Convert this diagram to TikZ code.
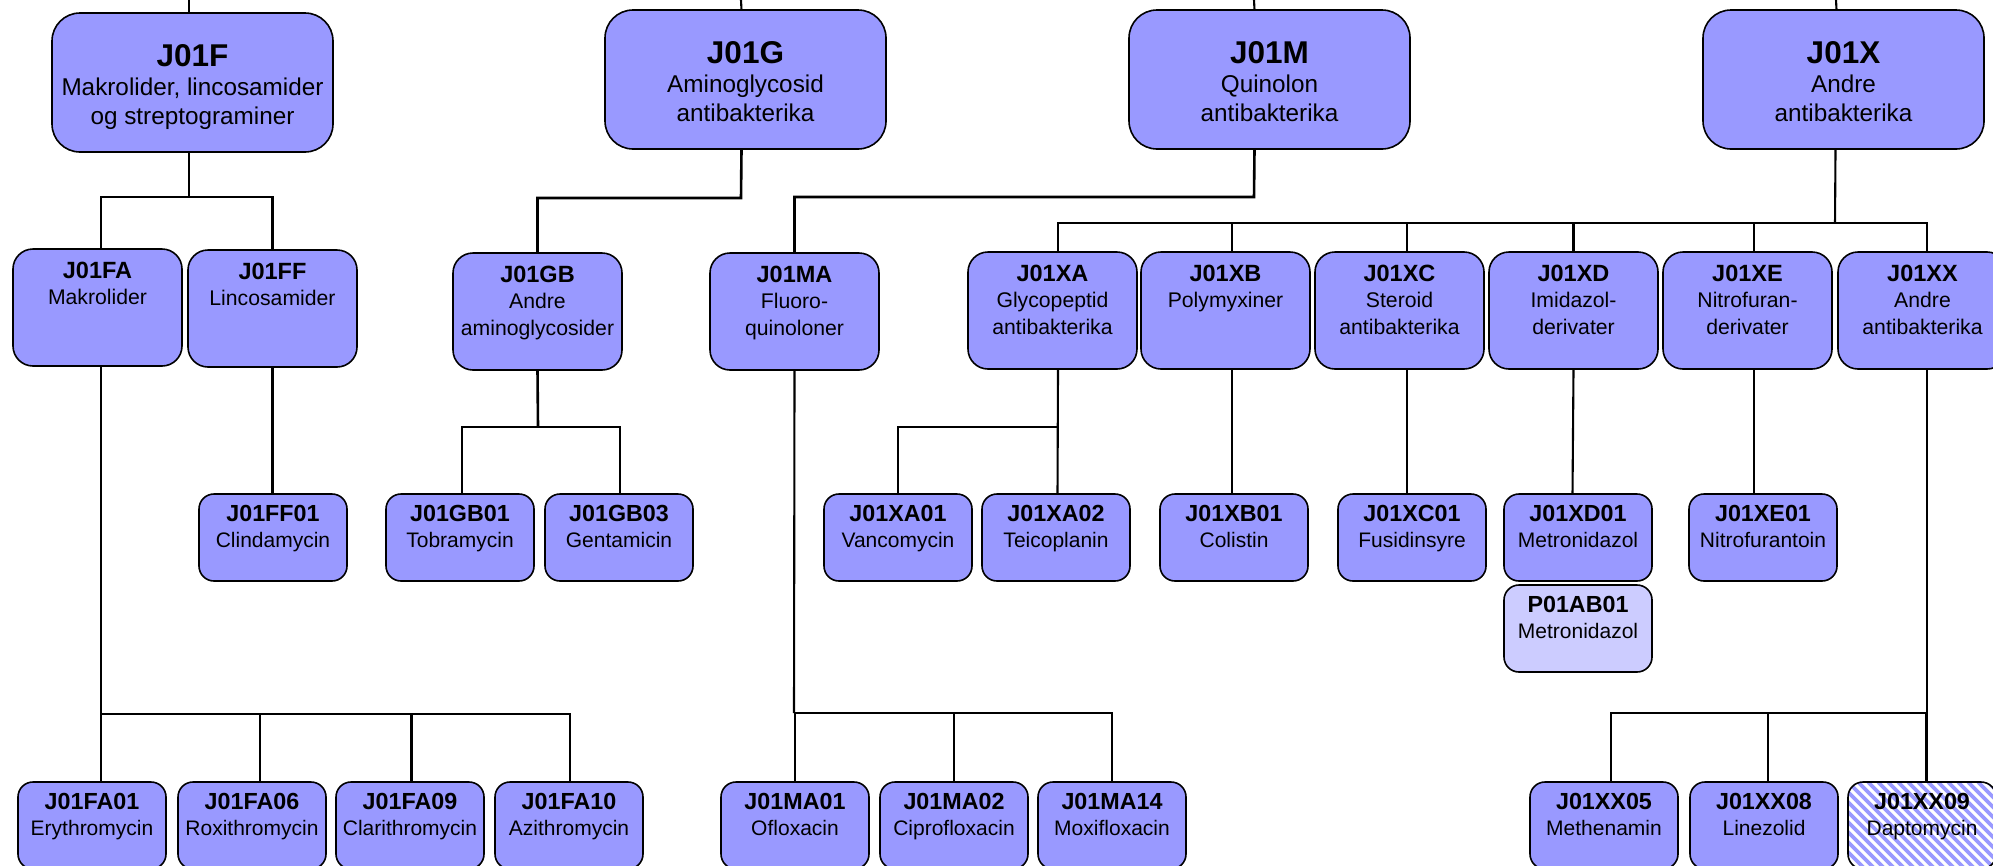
\documentclass[tikz,border=0pt]{standalone}
\usepackage{fontspec}
\setmainfont{Liberation Sans}
\usetikzlibrary{backgrounds}
\definecolor{boxblue}{HTML}{9999FF}
\definecolor{boxlight}{HTML}{CCCCFF}
\newcommand{\topbox}[2]{\parbox[t][139pt][t]{281pt}{\centering\fontsize{24.3}{29}\selectfont\rule{0pt}{53pt}{\fontsize{31.5}{30}\selectfont\bfseries #1}\\#2}}
\newcommand{\midbox}[2]{\parbox[t][117pt][t]{169pt}{\centering\fontsize{21.2}{26.5}\selectfont\rule{0pt}{29pt}{\fontsize{23.5}{27}\selectfont\bfseries #1}\\#2}}
\newcommand{\leafbox}[2]{\parbox[t][87pt][t]{148pt}{\centering\fontsize{21}{26}\selectfont\rule{0pt}{27pt}{\fontsize{23.3}{26}\selectfont\bfseries #1}\\#2}}
\begin{document}
\begin{tikzpicture}[x=1pt,y=-1pt,
  basebox/.style={draw=black, line width=1.6pt, fill=boxblue, inner sep=0pt, outer sep=0pt, anchor=north west},
  topnode/.style={basebox, rounded corners=28pt},
  midnode/.style={basebox, rounded corners=20pt},
  leafnode/.style={basebox, rounded corners=15pt},
  thickln/.style={draw=black, line width=2.6pt},
  thinln/.style={draw=black, line width=2.1pt}]
\useasboundingbox (0,0) rectangle (1993,865);

% top level
\node[topnode] (J01F) at (52,13) {\topbox{J01F}{Makrolider, lincosamider\\og streptograminer}};
\node[topnode] (J01G) at (605,10) {\topbox{J01G}{Aminoglycosid\\antibakterika}};
\node[topnode] (J01M) at (1129,10) {\topbox{J01M}{Quinolon\\antibakterika}};
\node[topnode] (J01X) at (1703,10) {\topbox{J01X}{Andre\\antibakterika}};

% second level
\node[midnode] (J01FA) at (13,249) {\midbox{J01FA}{Makrolider}};
\node[midnode] (J01FF) at (188,250) {\midbox{J01FF}{Lincosamider}};
\node[midnode] (J01GB) at (453,253) {\midbox{J01GB}{Andre\\aminoglycosider}};
\node[midnode] (J01MA) at (710,253) {\midbox{J01MA}{Fluoro-\\quinoloner}};
\node[midnode] (J01XA) at (968,252) {\midbox{J01XA}{Glycopeptid\\antibakterika}};
\node[midnode] (J01XB) at (1141,252) {\midbox{J01XB}{Polymyxiner}};
\node[midnode] (J01XC) at (1315,252) {\midbox{J01XC}{Steroid\\antibakterika}};
\node[midnode] (J01XD) at (1489,252) {\midbox{J01XD}{Imidazol-\\derivater}};
\node[midnode] (J01XE) at (1663,252) {\midbox{J01XE}{Nitrofuran-\\derivater}};
\node[midnode] (J01XX) at (1838,252) {\midbox{J01XX}{Andre\\antibakterika}};

% third level
\node[leafnode] (J01FF01) at (199,494) {\leafbox{J01FF01}{Clindamycin}};
\node[leafnode] (J01GB01) at (386,494) {\leafbox{J01GB01}{Tobramycin}};
\node[leafnode] (J01GB03) at (545,494) {\leafbox{J01GB03}{Gentamicin}};
\node[leafnode] (J01XA01) at (824,494) {\leafbox{J01XA01}{Vancomycin}};
\node[leafnode] (J01XA02) at (982,494) {\leafbox{J01XA02}{Teicoplanin}};
\node[leafnode] (J01XB01) at (1160,494) {\leafbox{J01XB01}{Colistin}};
\node[leafnode] (J01XC01) at (1338,494) {\leafbox{J01XC01}{Fusidinsyre}};
\node[leafnode] (J01XD01) at (1504,494) {\leafbox{J01XD01}{Metronidazol}};
\node[leafnode] (J01XE01) at (1689,494) {\leafbox{J01XE01}{Nitrofurantoin}};
\node[leafnode, fill=boxlight] (P01AB01) at (1504,585) {\leafbox{P01AB01}{Metronidazol}};

% bottom level
\node[leafnode] (J01FA01) at (18,782) {\leafbox{J01FA01}{Erythromycin}};
\node[leafnode] (J01FA06) at (178,782) {\leafbox{J01FA06}{Roxithromycin}};
\node[leafnode] (J01FA09) at (336,782) {\leafbox{J01FA09}{Clarithromycin}};
\node[leafnode] (J01FA10) at (495,782) {\leafbox{J01FA10}{Azithromycin}};
\node[leafnode] (J01MA01) at (721,782) {\leafbox{J01MA01}{Ofloxacin}};
\node[leafnode] (J01MA02) at (880,782) {\leafbox{J01MA02}{Ciprofloxacin}};
\node[leafnode] (J01MA14) at (1038,782) {\leafbox{J01MA14}{Moxifloxacin}};
\node[leafnode] (J01XX05) at (1530,782) {\leafbox{J01XX05}{Methenamin}};
\node[leafnode] (J01XX08) at (1690,782) {\leafbox{J01XX08}{Linezolid}};
\node[leafnode, fill=none] (J01XX09) at (1848,782) {\leafbox{J01XX09}{Daptomycin}};
\begin{scope}[on background layer]
  \clip[rounded corners=15pt] (J01XX09.north west) rectangle (J01XX09.south east);
  \foreach \k in {-12,...,16}
    \draw[boxblue, line width=3.6pt] ([xshift=\k*10pt]J01XX09.north west) -- ++(110,110);
\end{scope}

% lines to the top edge
\coordinate (tF) at (189,0);
\coordinate (tG) at (741,0);
\coordinate (tM) at (1254,0);
\coordinate (tX) at (1836,0);
\draw[thinln] ([xshift=-3.5pt]J01F.north) -- (tF);
\draw[thinln] ([xshift=-4pt]J01G.north) -- (tG);
\draw[thinln] ([xshift=-15pt]J01M.north) -- (tM);
\draw[thinln] ([xshift=-7pt]J01X.north) -- (tX);

% J01F group
\coordinate (cF) at (189,197);
\draw[thickln] ([xshift=-3.5pt]J01F.south) -- (cF);
\draw[thickln] ([xshift=3.5pt]J01FA.north) |- (cF) -| (J01FF.north);
% J01G group
\coordinate (cG) at (741,198);
\draw[thickln] ([xshift=-4pt]J01G.south) -- (cG) -| (J01GB.north);
% J01M group
\coordinate (cM) at (1254,197);
\draw[thickln] ([xshift=-15pt]J01M.south) -- (cM) -| (J01MA.north);
% J01X group
\coordinate (cX) at (1835,223);
\draw[thinln] ([xshift=-8pt]J01X.south) -- (cX);
\draw[thinln] ([xshift=5.5pt]J01XA.north) |- (cX) -| ([xshift=4.5pt]J01XX.north);
\draw[thinln] ([xshift=6.5pt]J01XB.north) |- (cX);
\draw[thinln] ([xshift=7.5pt]J01XC.north) |- (cX);
\draw[thinln] (J01XD.north) |- (cX);
\draw[thinln] ([xshift=6.5pt]J01XE.north) |- (cX);

% third level connectors
\draw[thinln] (J01FF.south) -- (J01FF.south |- J01FF01.north);
\coordinate (cGB) at (538,427);
\draw[thickln] (J01GB.south) -- (cGB);
\draw[thickln] ([xshift=2pt]J01GB01.north) |- (cGB) -| ([xshift=1pt]J01GB03.north);
\coordinate (cXA) at (1058,427);
\draw[thinln] ([xshift=5.5pt]J01XA.south) -- ([xshift=1.5pt]J01XA02.north);
\draw[thickln] (J01XA01.north) |- (cXA);
\draw[thinln] ([xshift=6.5pt]J01XB.south) -- ([xshift=-2pt]J01XB01.north);
\draw[thinln] ([xshift=7.5pt]J01XC.south) -- ([xshift=-5pt]J01XC01.north);
\draw[thinln] (J01XD.south) -- ([xshift=-5.5pt]J01XD01.north);
\draw[thinln] ([xshift=6.5pt]J01XE.south) -- ([xshift=-9pt]J01XE01.north);

% bottom connectors
\coordinate (cFA) at (101,714);
\coordinate (eFA) at (570,714);
\draw[thinln] ([xshift=3.5pt]J01FA.south) -- (cFA);
\draw[thickln] (cFA) -- (eFA);
\draw[thinln] ([xshift=9pt]J01FA01.north) |- (cFA);
\draw[thinln] ([xshift=8pt]J01FA06.north) |- (cFA);
\draw[thinln] ([xshift=1.5pt]J01FA09.north) |- (cFA);
\draw[thinln] ([xshift=1pt]J01FA10.north) |- (cFA);

\coordinate (cMA) at (794,713);
\coordinate (eMA) at (1112,713);
\draw[thinln] (J01MA.south) -- (cMA);
\draw[thickln] (cMA) -- (eMA);
\draw[thinln] (J01MA01.north) |- (cMA);
\draw[thinln] (J01MA02.north) |- (cMA);
\draw[thinln] (J01MA14.north) |- (cMA);

\coordinate (cXX) at (1927,713);
\coordinate (eXX) at (1611,713);
\draw[thickln] ([xshift=4.5pt]J01XX.south) -- (cXX);
\draw[thickln] (cXX) -- (eXX);
\draw[thickln] ([xshift=4.5pt]J01XX09.north) |- (cXX);
\draw[thinln] ([xshift=7pt]J01XX05.north) |- (cXX);
\draw[thinln] ([xshift=4pt]J01XX08.north) |- (cXX);
\end{tikzpicture}
\end{document}
